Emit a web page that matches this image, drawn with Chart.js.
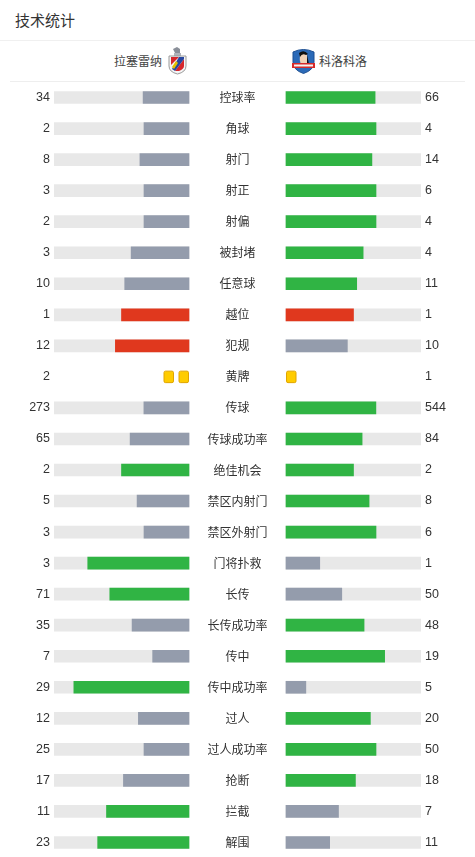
<!DOCTYPE html>
<html lang="zh">
<head>
    <meta charset="UTF-8">
    <meta name="viewport" content="width=device-width, initial-scale=1.0">
    <title>技术统计</title>
    <script src="https://cdn.jsdelivr.net/npm/chart.js"></script>
    <style>
        body {
            margin: 0;
            background: #fff;
            width: 475px;
            height: 857px;
            overflow: hidden;
            position: relative;
            font-family: "Liberation Sans", "Noto Sans CJK SC", sans-serif;
            color: #333;
        }
        .title {
            position: absolute;
            left: 15px;
            top: 9px;
            font-size: 15px;
            line-height: 22px;
            font-family: "Noto Sans CJK SC", sans-serif;
            color: #333;
        }
        .line1 {
            position: absolute;
            left: 0; top: 40px;
            width: 475px; height: 1px;
            background: #f0f0f0;
        }
        .line2 {
            position: absolute;
            left: 10px; top: 81px;
            width: 455px; height: 1px;
            background: #eeeeee;
        }
        .team {
            position: absolute;
            top: 52px;
            font-size: 12px;
            line-height: 18px;
            font-family: "Noto Sans CJK SC", sans-serif;
            color: #444;
        }
        .logo { position: absolute; }
        #wrap {
            position: absolute;
            left: 0;
            top: 81.5px;
            width: 475px;
            height: 776px;
        }
    </style>
</head>
<body>
    <div class="title">技术统计</div>
    <div class="line1"></div>

    <div class="team" style="right: 313px; text-align: right;">拉塞雷纳</div>
    <svg class="logo" style="left:167px; top:47px;" width="21" height="28" viewBox="0 0 21 28">
        <path d="M6 2 L10 0 L13 2 L13 6 L8 6 Z" fill="#8a8f99"/>
        <path d="M7 6 L14 6 L14 9 L7 9 Z" fill="#b0b4bb"/>
        <path d="M2 9 L19 9 L19 19 Q19 25 10.5 27 Q2 25 2 19 Z" fill="#f4f4f4" stroke="#9a9a9a" stroke-width="1"/>
        <path d="M4 10 L12 10 L4 18 Z" fill="#d6262b"/>
        <path d="M17 12 L17 19 Q17 22 12 24 L8 24 Z" fill="#d6262b"/>
        <path d="M12 10 L17 10 L17 12 L8 24 L5 22 Z" fill="#2747a0"/>
        <path d="M5 20 L9 14 L11 16 L7 22 Z" fill="#e3c100"/>
    </svg>

    <svg class="logo" style="left:291px; top:48px;" width="25" height="26" viewBox="0 0 25 26">
        <path d="M2 4 Q12.5 -1 23 4 L23 14 Q23 22 12.5 25.5 Q2 22 2 14 Z" fill="#2b6ab8" stroke="#1d4f92" stroke-width="1"/>
        <path d="M9 6 Q13 3 16 7 L16 15 L10 17 Q8 12 9 6 Z" fill="#f0d2b8"/>
        <path d="M8 5 Q13 1 17 6 L15 7 Q11 5 9 9 Z" fill="#111"/>
        <path d="M16 7 L18 16 L16 17 Z" fill="#111"/>
        <rect x="1" y="15" width="23" height="5" fill="#d62a2a"/>
        <rect x="3" y="16.5" width="19" height="2" fill="#f4f4f4"/>
    </svg>
    <div class="team" style="left: 319px;">科洛科洛</div>

    <div class="line2"></div>

    <div id="wrap"><canvas id="statsChart"></canvas></div>

    <script>
        // Stat names and the two teams' numbers, top to bottom
        const statLabels = ['控球率', '角球', '射门', '射正', '射偏', '被封堵', '任意球', '越位', '犯规', '黄牌',
            '传球', '传球成功率', '绝佳机会', '禁区内射门', '禁区外射门', '门将扑救', '长传', '长传成功率',
            '传中', '传中成功率', '过人', '过人成功率', '抢断', '拦截', '解围'];
        const homeValues = [34, 2, 8, 3, 2, 3, 10, 1, 12, 2, 273, 65, 2, 5, 3, 3, 71, 35, 7, 29, 12, 25, 17, 11, 23];
        const awayValues = [66, 4, 14, 6, 4, 4, 11, 1, 10, 1, 544, 84, 2, 8, 6, 1, 50, 48, 19, 5, 20, 50, 18, 7, 11];

        // stats where more is worse (shown red)
        const badStats = ['越位', '犯规'];
        const cardStat = '黄牌';

        const GREEN = '#30b444';
        const GRAY = '#949cac';
        const RED = '#e0381e';
        const TRACK = '#e8e8e8';

        // gap between the two tracks, in track-length units (97px / 135px)
        const GAP = 48.5 / 135;
        const HALF = GAP + 1;

        function fillColor(mine, other, label) {
            const bad = badStats.includes(label);
            if (mine > other || mine === other) return bad ? RED : GREEN;
            return GRAY;
        }

        const leftTrack = [], rightTrack = [], leftFill = [], rightFill = [];
        const leftColors = [], rightColors = [];
        statLabels.forEach((label, i) => {
            const h = homeValues[i], a = awayValues[i];
            if (label === cardStat) {
                leftTrack.push(null); rightTrack.push(null);
                leftFill.push(null); rightFill.push(null);
                leftColors.push(GRAY); rightColors.push(GRAY);
                return;
            }
            const total = h + a;
            const ph = total ? h / total : 0;
            const pa = total ? a / total : 0;
            leftTrack.push([-HALF, -GAP]);
            rightTrack.push([GAP, HALF]);
            leftFill.push([-GAP - ph, -GAP]);
            rightFill.push([GAP, GAP + pa]);
            leftColors.push(fillColor(h, a, label));
            rightColors.push(fillColor(a, h, label));
        });

        // numbers, stat names and yellow card squares
        const textPlugin = {
            id: 'statText',
            afterDatasetsDraw(chart) {
                const ctx = chart.ctx;
                const x = chart.scales.x;
                const y = chart.scales.y;
                const leftEdge = x.getPixelForValue(-HALF);
                const rightEdge = x.getPixelForValue(HALF);
                const centre = x.getPixelForValue(0);
                ctx.save();
                ctx.fillStyle = '#333';
                ctx.textBaseline = 'middle';
                statLabels.forEach((label, i) => {
                    const py = y.getPixelForValue(i);
                    ctx.font = '12.5px "Liberation Sans", "Noto Sans CJK SC", sans-serif';
                    ctx.textAlign = 'right';
                    ctx.fillText(String(homeValues[i]), leftEdge - 4, py);
                    ctx.textAlign = 'left';
                    ctx.fillText(String(awayValues[i]), rightEdge + 4, py);
                    ctx.font = '12px "Noto Sans CJK SC", sans-serif';
                    ctx.textAlign = 'center';
                    ctx.fillText(label, centre, py);

                    if (label === cardStat) {
                        const w = 10.5, hgt = 12.5, step = 15;
                        const lStart = x.getPixelForValue(-GAP);
                        for (let k = 0; k < homeValues[i]; k++) {
                            drawCard(ctx, lStart - w - k * step, py - hgt / 2, w, hgt);
                        }
                        const rStart = x.getPixelForValue(GAP);
                        for (let k = 0; k < awayValues[i]; k++) {
                            drawCard(ctx, rStart + k * step, py - hgt / 2, w, hgt);
                        }
                        ctx.fillStyle = '#333';
                    }
                });
                ctx.restore();
            }
        };

        function drawCard(ctx, x, y, w, h) {
            ctx.beginPath();
            ctx.roundRect(x + 0.5, y + 0.5, w - 1, h - 1, 1.5);
            ctx.fillStyle = '#ffcc00';
            ctx.fill();
            ctx.strokeStyle = '#e0a500';
            ctx.lineWidth = 1;
            ctx.stroke();
        }

        const ctx = document.getElementById('statsChart').getContext('2d');
        new Chart(ctx, {
            type: 'bar',
            data: {
                labels: statLabels,
                datasets: [
                    { data: leftFill, backgroundColor: leftColors, order: 0 },
                    { data: rightFill, backgroundColor: rightColors, order: 0 },
                    { data: leftTrack, backgroundColor: TRACK, order: 1 },
                    { data: rightTrack, backgroundColor: TRACK, order: 1 },
                ],
            },
            options: {
                indexAxis: 'y',
                responsive: true,
                maintainAspectRatio: false,
                animation: false,
                layout: { padding: { left: 54, right: 54, top: 0, bottom: 0 } },
                datasets: {
                    bar: {
                        grouped: false,
                        barThickness: 12,
                        borderWidth: 0,
                        borderSkipped: false,
                    },
                },
                scales: {
                    x: { display: false, min: -HALF, max: HALF },
                    y: { display: false },
                },
                plugins: {
                    legend: { display: false },
                    tooltip: { enabled: false },
                },
            },
            plugins: [textPlugin],
        });
    </script>
</body>
</html>
